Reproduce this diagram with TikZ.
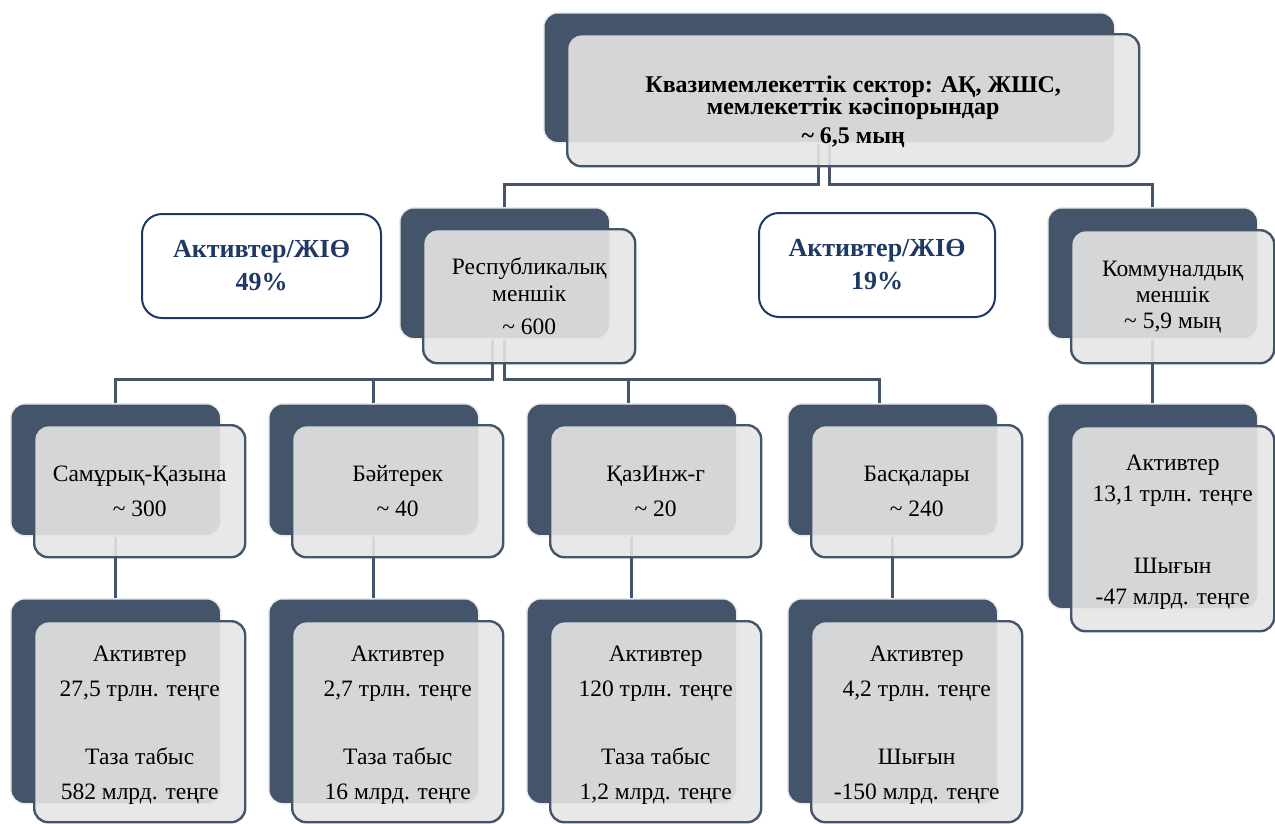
\documentclass[tikz,border=0pt]{standalone}
\usepackage{fontspec}
\setmainfont{Liberation Serif}
\definecolor{slate}{HTML}{44546A}
\definecolor{navy}{HTML}{1F3864}
\newcommand\tightlines{\lineskiplimit-50pt\relax}
\tikzset{
  back/.style={draw=black!8, line width=1.5pt, fill=slate, rounded corners=14pt,
    anchor=north west, inner sep=0pt, minimum width=210pt},
  front/.style={draw=slate, line width=2.4pt, fill=black!10, fill opacity=0.9,
    text opacity=1, rounded corners=14pt, anchor=north west, inner sep=0pt,
    align=center, minimum width=211pt, font=\fontsize{23.5}{35}\selectfont},
  ratio/.style={draw=navy, line width=2pt, fill=white, rounded corners=20pt,
    anchor=north west, align=center, text=navy,
    font=\fontsize{26}{33}\selectfont\bfseries},
  link/.style={draw=slate, line width=2.8pt},
}
\begin{document}
\begin{tikzpicture}[x=1pt,y=-1pt]
  \useasboundingbox (0,0) rectangle (1275,823);
  % dark shapes behind
  \node[back, minimum width=571pt, minimum height=130pt] at (543,12) (topB) {};
  \node[back, minimum height=131pt] at (399,207) (repB) {};
  \node[back, minimum height=131pt] at (1047,207) (comB) {};
  \node[back, minimum height=132pt] at (10,403) (samB) {};
  \node[back, minimum height=132pt] at (268,403) (baiB) {};
  \node[back, minimum height=132pt] at (526,403) (kazB) {};
  \node[back, minimum height=132pt] at (787,403) (basB) {};
  \node[back, minimum height=205pt] at (10,598) (samB2) {};
  \node[back, minimum height=205pt] at (268,598) (baiB2) {};
  \node[back, minimum height=205pt] at (526,598) (kazB2) {};
  \node[back, minimum height=205pt] at (787,598) (basB2) {};
  \node[back, minimum height=205pt] at (1047,403) (comB2) {};
  % connectors
  \draw[link] ([xshift=-11pt]topB.south) -- ++(0,41) -| (repB.north);
  \draw[link] (topB.south) -- ++(0,41) -| (comB.north);
  \draw[link] ([xshift=-12pt]repB.south) -- ++(0,40) -| (samB.north);
  \draw[link] ([xshift=-12pt]repB.south) -- ++(0,40) -| (baiB.north);
  \draw[link] (repB.south) -- ++(0,40) -| ([xshift=-3pt]kazB.north);
  \draw[link] (repB.south) -- ++(0,40) -| ([xshift=-13pt]basB.north);
  \draw[link] (comB.south) -- (comB2.north);
  \draw[link] (samB.south) -- (samB2.north);
  \draw[link] (baiB.south) -- (baiB2.north);
  \draw[link] (kazB.south) -- (kazB2.north);
  \draw[link] (basB.south) -- (basB2.north);
  % light shapes in front
  \node[front, minimum width=572pt, minimum height=132pt,
    font=\fontsize{24}{22}\selectfont\bfseries\tightlines] at (566,33) (topF)
    {\rule{0pt}{40pt}Квазимемлекеттік сектор: АҚ, ЖШС,\\мемлекеттік кәсіпорындар\\[7pt]\textasciitilde{} 6,5 мың};
  \node[front, minimum width=212pt, minimum height=134pt,
    font=\fontsize{23.5}{27}\selectfont] at (422,228) (repF)
    {Республикалық\\меншік\\[6pt]\textasciitilde{} 600};
  \node[front, minimum width=203pt, minimum height=133pt,
    font=\fontsize{23.5}{26}\selectfont] at (1070,229) (comF)
    {Коммуналдық\\меншік\\ \textasciitilde{} 5,9 мың};
  \node[front, minimum height=132pt] at (33,424) (samF) {Самұрық-Қазына\\\textasciitilde{} 300};
  \node[front, minimum height=132pt] at (291,424) (baiF) {Бәйтерек\\\textasciitilde{} 40};
  \node[front, minimum height=132pt] at (549,424) (kazF) {ҚазИнж-г\\\textasciitilde{} 20};
  \node[front, minimum height=132pt] at (810,424) (basF) {Басқалары\\\textasciitilde{} 240};
  \node[front, minimum height=201pt] at (33,620) (samF2)
    {\rule{0pt}{22pt}Активтер\\27,5 трлн. теңге\\[33pt]Таза табыс\\582 млрд. теңге};
  \node[front, minimum height=201pt] at (291,620) (baiF2)
    {\rule{0pt}{22pt}Активтер\\2,7 трлн. теңге\\[33pt]Таза табыс\\16 млрд. теңге};
  \node[front, minimum height=201pt] at (549,620) (kazF2)
    {\rule{0pt}{22pt}Активтер\\120 трлн. теңге\\[33pt]Таза табыс\\1,2 млрд. теңге};
  \node[front, minimum height=201pt] at (810,620) (basF2)
    {\rule{0pt}{22pt}Активтер\\4,2 трлн. теңге\\[33pt]Шығын\\-150 млрд. теңге};
  \node[front, minimum width=203pt, minimum height=205pt,
    font=\fontsize{23.5}{31}\selectfont] at (1070,425) (comF2)
    {\rule{0pt}{22pt}Активтер\\13,1 трлн. теңге\\[41pt]Шығын\\-47 млрд. теңге};
  % ratio boxes
  \node[ratio, minimum width=239pt, minimum height=104pt] at (141,213) (gdpL) {Активтер/ЖІӨ\\49\%};
  \node[ratio, minimum width=236pt, minimum height=104pt] at (758,212) (gdpR) {Активтер/ЖІӨ\\19\%};
\end{tikzpicture}
\end{document}
